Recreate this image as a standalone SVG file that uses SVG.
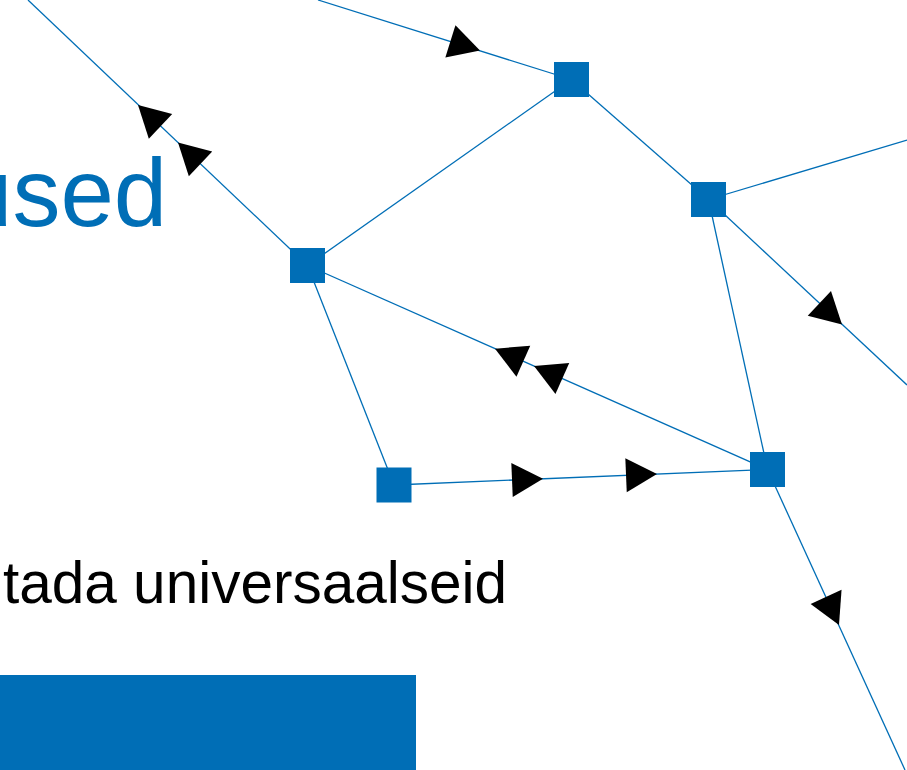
<svg xmlns="http://www.w3.org/2000/svg" xmlns:xlink="http://www.w3.org/1999/xlink" width="907" height="770" viewBox="0 0 907 770">
<style>
.edge{stroke:#006EB6;stroke-width:1.3;fill:none}
.node{fill:#006EB6}
.arr{fill:#000}
.title{font-family:"Liberation Sans",Arial,sans-serif;fill:#006EB6;font-size:96px}
.sub{font-family:"Liberation Sans",Arial,sans-serif;fill:#000;font-size:58.5px}
</style>
<defs>
<path id="tri" d="M0,0 L-31,-17 L-31,17 Z"/>
</defs>
<rect width="907" height="770" fill="#fff"/>
<text class="title" x="-41" y="226">used</text>
<text class="sub" x="3" y="603">tada universaalseid</text>
<rect x="0" y="675" width="416" height="95" fill="#006EB6"/>
<g id="connectors">
<line class="edge" x1="318" y1="0" x2="571.5" y2="79.5"/>
<line class="edge" x1="28" y1="0" x2="307.5" y2="265.5"/>
<line class="edge" x1="307.5" y1="265.5" x2="571.5" y2="79.5"/>
<line class="edge" x1="571.5" y1="79.5" x2="708.5" y2="199.5"/>
<line class="edge" x1="708.5" y1="199.5" x2="907" y2="140"/>
<line class="edge" x1="708.5" y1="199.5" x2="907" y2="385"/>
<line class="edge" x1="708.5" y1="199.5" x2="767.5" y2="469.5"/>
<line class="edge" x1="307.5" y1="265.5" x2="767.5" y2="469.5"/>
<line class="edge" x1="307.5" y1="265.5" x2="394" y2="485"/>
<line class="edge" x1="394" y1="485" x2="767.5" y2="469.5"/>
<line class="edge" x1="767.5" y1="469.5" x2="905" y2="770"/>
<use href="#tri" class="arr" transform="translate(480,50.6) rotate(17.3)"/>
<use href="#tri" class="arr" transform="translate(138,105) rotate(-136.6)"/>
<use href="#tri" class="arr" transform="translate(178,142.5) rotate(-136.6)"/>
<use href="#tri" class="arr" transform="translate(495,348.7) rotate(203.9)"/>
<use href="#tri" class="arr" transform="translate(534,366) rotate(203.9)"/>
<use href="#tri" class="arr" transform="translate(543,478.8) rotate(-2.4)"/>
<use href="#tri" class="arr" transform="translate(657,474) rotate(-2.4)"/>
<use href="#tri" class="arr" transform="translate(842,324.5) rotate(43.1)"/>
<use href="#tri" class="arr" transform="translate(839,625) rotate(65.4)"/>
</g>
<g id="n1"><rect class="node" x="554" y="62" width="35" height="35"/></g>
<g id="n2"><rect class="node" x="691" y="182" width="35" height="35"/></g>
<g id="n3"><rect class="node" x="290" y="248" width="35" height="35"/></g>
<g id="n4"><rect class="node" x="376.5" y="467.5" width="35" height="35"/></g>
<g id="n5"><rect class="node" x="750" y="452" width="35" height="35"/></g>
</svg>
